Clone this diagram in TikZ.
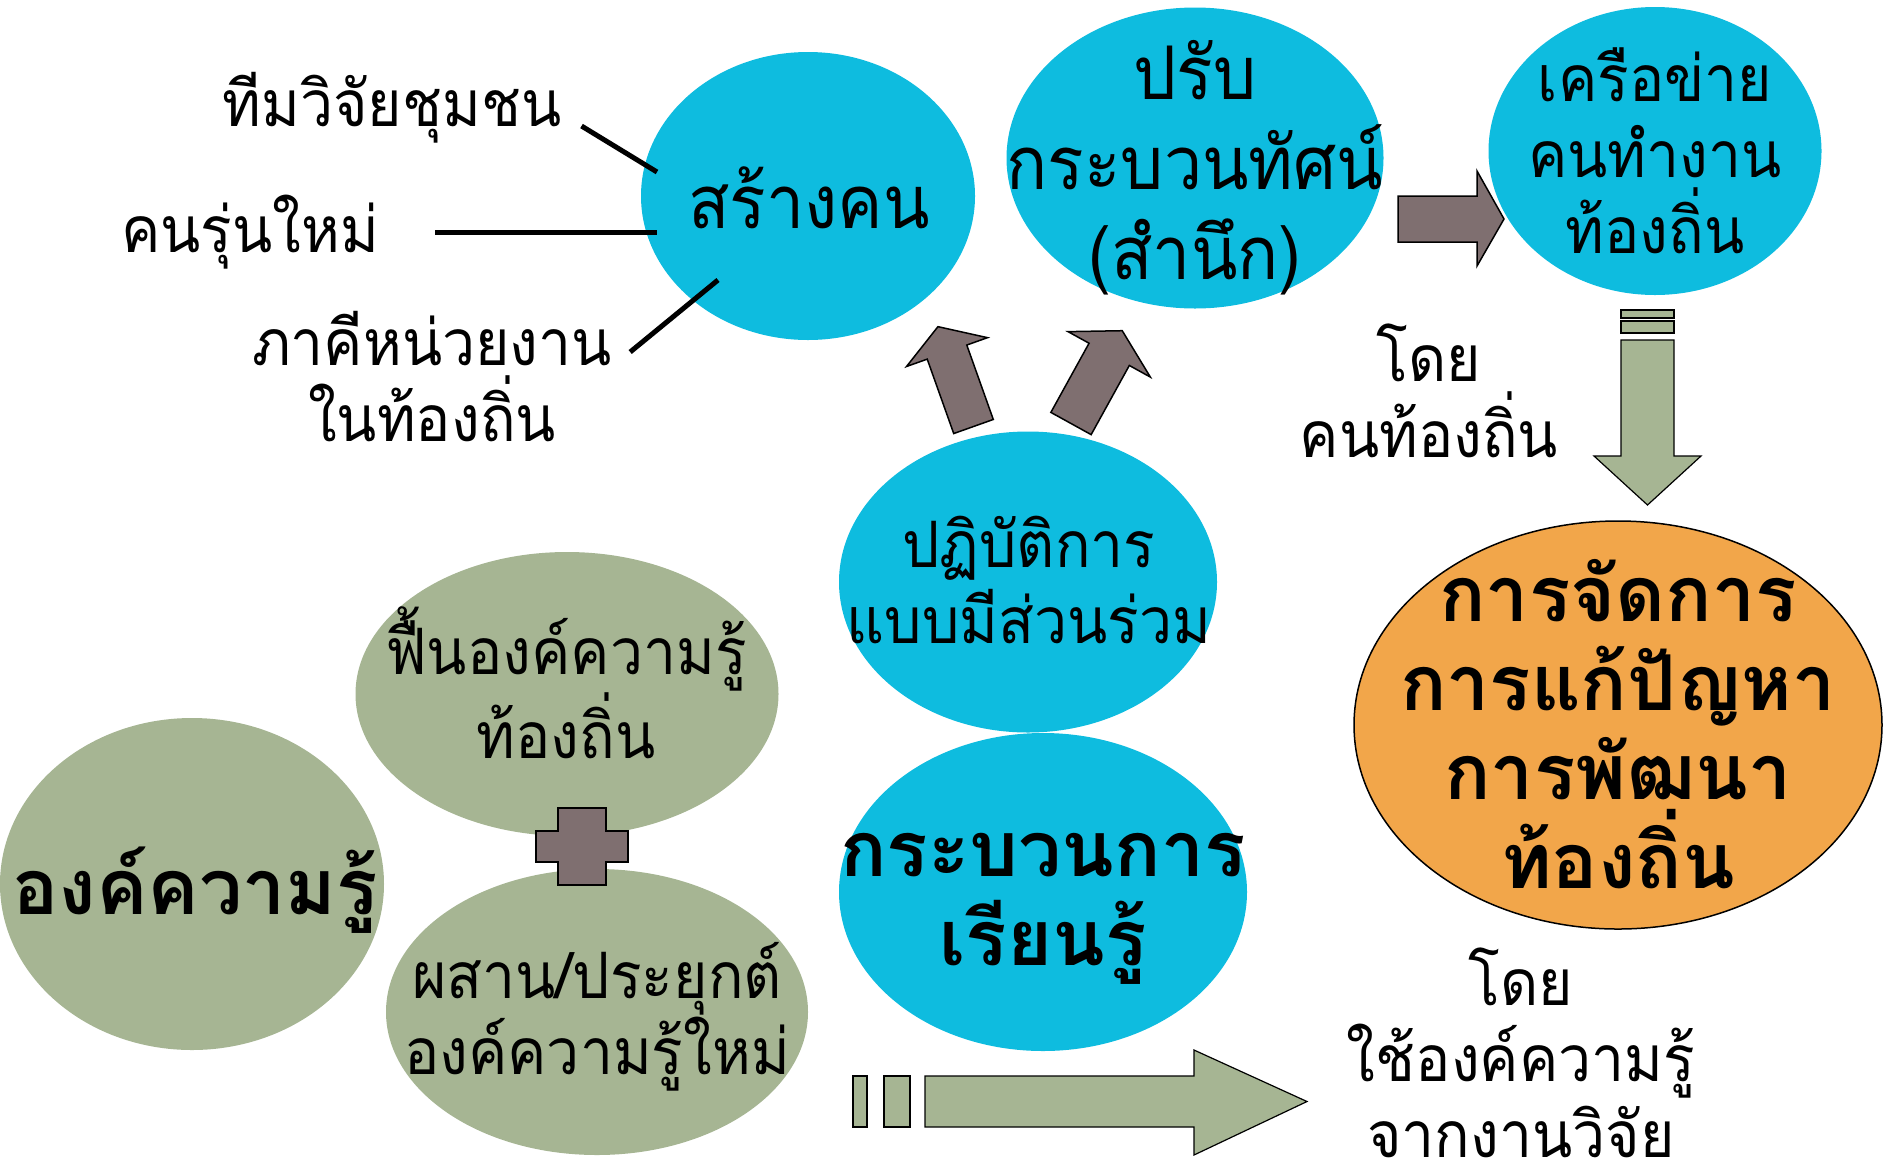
\documentclass[tikz,border=0pt]{standalone}
\usepackage{fontspec}
\usetikzlibrary{shapes.geometric}
\newfontfamily\thai[Script=Thai,FakeStretch=0.92]{Loma}
\newfontfamily\thaiheavy[Script=Thai]{Loma}
\definecolor{skyblob}{RGB}{14,188,223}
\definecolor{sageblob}{RGB}{166,181,147}
\definecolor{mauve}{RGB}{127,111,112}
\definecolor{orangeblob}{RGB}{242,166,74}

\begin{document}
\begin{tikzpicture}[x=1pt,y=-1pt]
\tikzstyle{blob}=[ellipse,inner sep=0pt]
\tikzstyle{sky}=[blob,fill=skyblob]
\tikzstyle{sage}=[blob,fill=sageblob]
\tikzstyle{txtA}=[inner sep=0pt,align=center,anchor=base,font=\thai\fontsize{64}{76}\selectfont]
\tikzstyle{txtB}=[inner sep=0pt,align=center,anchor=base,font=\thai\fontsize{74}{90}\selectfont]
\tikzstyle{txtC}=[inner sep=0pt,align=center,anchor=base,font=\thaiheavy\bfseries\fontsize{77}{89}\selectfont]
\tikzstyle{link}=[line width=5pt]
\tikzstyle{greyarrow}=[fill=mauve,draw=black,line width=1.5pt]
\tikzstyle{greenarrow}=[fill=sageblob,draw=black,line width=1.2pt]
\useasboundingbox (0,0) rectangle (1886,1163);
% blobs
\foreach \n/\x/\y/\w/\h in {sangkhon/808/196/334/288,prab/1195/158/377/301,khruea/1655/151/333/288,patibat/1028/582/378/301,rianru/1043/892/408/318}{
\node[sky,minimum width=\w pt,minimum height=\h pt] (\n) at (\x,\y) {};
}
\node[blob,fill=orangeblob,draw=black,line width=1.5pt,minimum width=528pt,minimum height=408pt] (jadkan) at (1618,725) {};
\node[sage,minimum width=384pt,minimum height=332pt] (ongkhwamru) at (192,884) {};
\node[sage,minimum width=423pt,minimum height=284pt] (fuen) at (567,694) {};
\node[sage,minimum width=422pt,minimum height=286pt] (phasan) at (597,1012) {};

% block arrows
\draw[greyarrow] (1398,196) -- (1477,196) -- (1477,171) -- (1504,219) -- (1477,266) -- (1477,242) -- (1398,242) -- cycle;
\begin{scope}[shift={(973.5,426.5)},rotate=109.6]
\draw[greyarrow] (0,-21) -- (79,-21) -- (79,-43) -- (106,0) -- (79,43) -- (79,21) -- (0,21) -- cycle;
\end{scope}
\begin{scope}[shift={(1071,423.5)},rotate=61.1]
\draw[greyarrow] (0,-23) -- (79,-23) -- (79,-47) -- (106,0) -- (79,47) -- (79,23) -- (0,23) -- cycle;
\end{scope}
\foreach \a/\b in {310/318,321/333}{
\draw[greenarrow] (1621,\a) rectangle (1674,\b);
}
\draw[greenarrow] (1621,340) -- (1674,340) -- (1674,456) -- (1701,456) -- (1647.5,505) -- (1594,456) -- (1621,456) -- cycle;
\foreach \a/\b in {853/867,884/910}{
\draw[greenarrow] (\a,1076) rectangle (\b,1127);
}
\draw[greenarrow] (925,1076) -- (1194,1076) -- (1194,1050) -- (1307,1101.5) -- (1194,1155) -- (1194,1127) -- (925,1127) -- cycle;
\draw[greyarrow] (558,808) -- (606,808) -- (606,831) -- (628,831) -- (628,862) -- (606,862) -- (606,885) -- (558,885) -- (558,862) -- (536,862) -- (536,831) -- (558,831) -- cycle;

% texts (anchored at the last line)
\node[txtA] (team) at (392,126) {ทีมวิจัยชุมชน};
\node[txtA] (newgen) at (250,252) {คนรุ่นใหม่};
\node[txtA] (partner) at (432,441) {ภาคีหน่วยงาน\\ในท้องถิ่น};
\node[txtB] (sangkhon-t) at (809,228) {สร้างคน};
\node[txtB] (prab-t) at (1195,279) {ปรับ\\กระบวนทัศน์\\(สำนึก)};
\node[txtA] (khruea-t) at (1655,253) {เครือข่าย\\คนทำงาน\\ท้องถิ่น};
\node[txtA] (doi-local) at (1429,457) {โดย\\คนท้องถิ่น};
\node[txtA] (patibat-t) at (1029,643) {ปฏิบัติการ\\แบบมีส่วนร่วม};
\node[txtC] (rianru-t) at (1043,965) {กระบวนการ\\เรียนรู้};
\node[txtC] (jadkan-t) at (1618,888) {การจัดการ\\การแก้ปัญหา\\การพัฒนา\\ท้องถิ่น};
\node[txtC] (ongkhwamru-t) at (195,914) {องค์ความรู้};
\node[txtA] (fuen-t) at (566,758) {ฟื้นองค์ความรู้\\ท้องถิ่น};
\node[txtA] (phasan-t) at (597,1074) {ผสาน/ประยุกต์\\องค์ความรู้ใหม่};
\node[txtA] (doi-research) at (1521,1157) {โดย\\ใช้องค์ความรู้\\จากงานวิจัย};

% links to sangkhon
\draw[link] ([shift={(20,0)}]team.base east) -- ([shift={(-151,-24)}]sangkhon.center);
\draw[link] ([shift={(56,-20)}]newgen.base east) -- ([shift={(-151,36)}]sangkhon.center);
\draw[link] ([shift={(18,-89)}]partner.base east) -- ([shift={(-90,84)}]sangkhon.center);
\end{tikzpicture}
\end{document}
